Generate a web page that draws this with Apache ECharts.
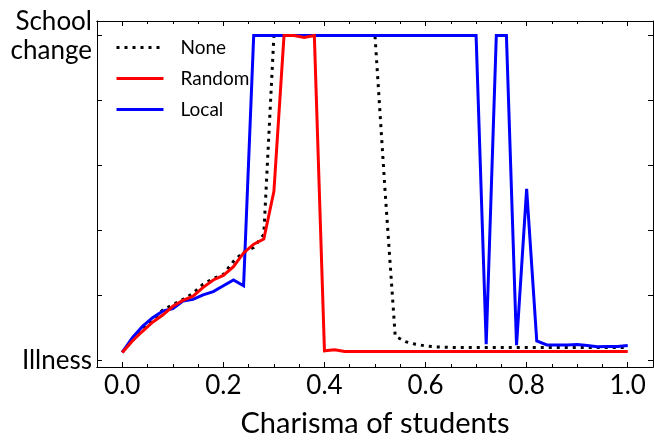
<!DOCTYPE html>
<html>
<head>
<meta charset="utf-8">
<script src="https://cdn.jsdelivr.net/npm/echarts@6/dist/echarts.min.js"></script>
<style>
  html, body { margin: 0; padding: 0; background: #fff; }
  #chart { width: 654px; height: 443px; }
</style>
</head>
<body>
<div id="chart"></div>
<script>
// Charisma values (x) sampled every 0.02
const charisma = [0.00, 0.02, 0.04, 0.06, 0.08, 0.10, 0.12, 0.14, 0.16, 0.18,
  0.20, 0.22, 0.24, 0.26, 0.28, 0.30, 0.32, 0.34, 0.36, 0.38,
  0.40, 0.42, 0.44, 0.46, 0.48, 0.50, 0.52, 0.54, 0.56, 0.58,
  0.60, 0.62, 0.64, 0.66, 0.68, 0.70, 0.72, 0.74, 0.76, 0.78,
  0.80, 0.82, 0.84, 0.86, 0.88, 0.90, 0.92, 0.94, 0.96, 0.98, 1.00];

// Outcome on a 0 (Illness) .. 1 (School change) scale
const noneVals = [0.025, 0.062, 0.095, 0.125, 0.155, 0.172, 0.188, 0.207, 0.235, 0.252,
  0.265, 0.305, 0.334, 0.348, 0.388, 1.0, 1.0, 1.0, 1.0, 1.0,
  1.0, 1.0, 1.0, 1.0, 1.0, 1.0, 0.52, 0.075, 0.058, 0.050,
  0.045, 0.042, 0.041, 0.040, 0.040, 0.040, 0.040, 0.040, 0.040, 0.040,
  0.040, 0.040, 0.040, 0.040, 0.040, 0.040, 0.040, 0.040, 0.040, 0.040, 0.040];

const randomVals = [0.025, 0.060, 0.090, 0.118, 0.140, 0.167, 0.185, 0.198, 0.225, 0.248,
  0.262, 0.289, 0.331, 0.358, 0.374, 0.521, 1.0, 1.0, 0.994, 1.0,
  0.030, 0.033, 0.028, 0.028, 0.028, 0.028, 0.028, 0.028, 0.028, 0.028,
  0.028, 0.028, 0.028, 0.028, 0.028, 0.028, 0.028, 0.028, 0.028, 0.028,
  0.028, 0.028, 0.028, 0.028, 0.028, 0.028, 0.028, 0.028, 0.028, 0.028, 0.028];

const localVals = [0.025, 0.070, 0.105, 0.132, 0.152, 0.160, 0.183, 0.188, 0.202, 0.212,
  0.230, 0.248, 0.230, 1.0, 1.0, 1.0, 1.0, 1.0, 1.0, 1.0,
  1.0, 1.0, 1.0, 1.0, 1.0, 1.0, 1.0, 1.0, 1.0, 1.0,
  1.0, 1.0, 1.0, 1.0, 1.0, 1.0, 0.050, 1.0, 1.0, 0.047,
  0.528, 0.060, 0.048, 0.048, 0.048, 0.049, 0.046, 0.042, 0.043, 0.043, 0.046];

const seriesNames = ['None', 'Random', 'Local'];
const xMajorTicks = [0, 0.2, 0.4, 0.6, 0.8, 1.0];
const xMinorTicks = [-0.05, 0.05, 0.1, 0.15, 0.25, 0.3, 0.35, 0.45, 0.5, 0.55,
  0.65, 0.7, 0.75, 0.85, 0.9, 0.95, 1.05];
const yTicks = [0, 0.2, 0.4, 0.6, 0.8, 1.0];
const yTickLabels = { 0: 'Illness', 1: 'School\nchange' };
const xTitle = 'Charisma of students';

const FONT = 'Lato';
const pair = vals => charisma.map((x, i) => [x, vals[i]]);

const X_MIN = -0.05, X_MAX = 1.05, Y_MIN = -0.02, Y_MAX = 1.045;

function xAxisDef(position, ticks, len, withLabels) {
  return {
    type: 'value', position, min: X_MIN, max: X_MAX,
    axisLine: { show: true, onZero: false, lineStyle: { color: '#000', width: 1 } },
    axisTick: { show: true, inside: true, length: len, customValues: ticks,
      lineStyle: { color: '#000', width: 1 } },
    axisLabel: withLabels ? {
      show: true, customValues: xMajorTicks, color: '#000', fontFamily: FONT,
      fontSize: 26, margin: 6, formatter: v => Number(v).toFixed(1)
    } : { show: false },
    splitLine: { show: false }
  };
}

function yAxisDef(position, withLabels) {
  return {
    type: 'value', position, min: Y_MIN, max: Y_MAX,
    axisLine: { show: true, onZero: false, lineStyle: { color: '#000', width: 1 } },
    axisTick: { show: true, inside: true, length: 5, customValues: yTicks,
      lineStyle: { color: '#000', width: 1 } },
    axisLabel: withLabels ? {
      show: true, customValues: [0, 1], color: '#000', fontFamily: FONT,
      fontSize: 26, lineHeight: 29, margin: 5, align: 'right', padding: [7, 0, 0, 0],
      formatter: v => yTickLabels[Math.round(v)] || ''
    } : { show: false },
    splitLine: { show: false }
  };
}

const chart = echarts.init(document.getElementById('chart'), null, { renderer: 'canvas' });

const xMain = xAxisDef('bottom', xMajorTicks, 5, true);
xMain.name = xTitle;
xMain.nameLocation = 'middle';
xMain.nameGap = 42;
xMain.nameTextStyle = { color: '#000', fontFamily: FONT, fontSize: 29 };

chart.setOption({
  animation: false,
  backgroundColor: '#fff',
  grid: { left: 97, right: 1, top: 21, bottom: 68, containLabel: false },
  xAxis: [
    xMain,
    xAxisDef('bottom', xMinorTicks, 3, false),
    xAxisDef('top', xMajorTicks, 5, false),
    xAxisDef('top', xMinorTicks, 3, false)
  ],
  yAxis: [yAxisDef('left', true), yAxisDef('right', false)],
  legend: {
    orient: 'vertical', left: 115, top: 38, padding: 0,
    itemWidth: 47, itemHeight: 14, itemGap: 12,
    data: seriesNames,
    itemStyle: { opacity: 0 },
    lineStyle: { width: 3 },
    textStyle: { color: '#000', fontFamily: FONT, fontSize: 19, padding: [0, 0, 0, 12] }
  },
  series: [
    {
      name: 'None', type: 'line', data: pair(noneVals), showSymbol: false, symbol: 'none',
      lineStyle: { color: '#000', width: 3, type: [3, 5], cap: 'butt' },
      itemStyle: { color: '#000' }, z: 2
    },
    {
      name: 'Local', type: 'line', data: pair(localVals), showSymbol: false, symbol: 'none',
      lineStyle: { color: '#0000ff', width: 3, cap: 'butt', join: 'miter' },
      itemStyle: { color: '#0000ff' }, z: 3
    },
    {
      name: 'Random', type: 'line', data: pair(randomVals), showSymbol: false, symbol: 'none',
      lineStyle: { color: '#ff0000', width: 3, cap: 'butt', join: 'miter' },
      itemStyle: { color: '#ff0000' }, z: 4
    }
  ]
});
</script>
</body>
</html>
